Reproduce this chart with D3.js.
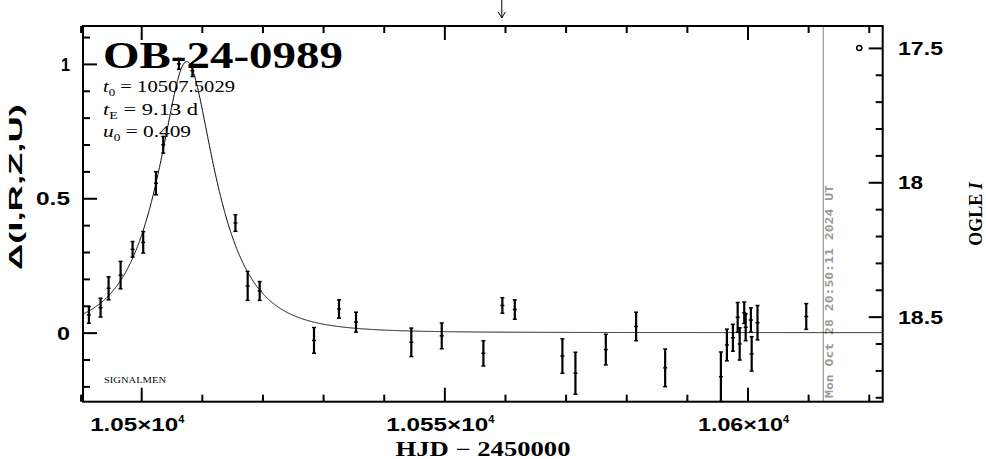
<!DOCTYPE html>
<html><head><meta charset="utf-8">
<script src="https://cdn.jsdelivr.net/npm/d3@7"></script>
<style>body{margin:0;background:#fff}svg{display:block}</style>
</head><body>
<script>
// ---- data ----
const eventName = "OB-24-0989";
const t0 = 10507.5029, tE = 9.13, u0 = 0.409, blendFs = 0.96;
const baseMag = 18.5595;           // OGLE I baseline (Δ = 0)
const hjd = [10491.37,10493.30,10494.62,10496.60,10498.58,10500.33,10502.43,10503.63,10506.22,10508.45,
  10515.54,10517.56,10519.54,10528.50,10532.62,10535.43,10544.55,10549.57,10556.44,10559.57,10561.62,
  10569.47,10571.62,10576.63,10581.63,10586.42,10595.61,10596.60,10597.59,10598.38,10598.71,10599.46,
  10599.70,10600.56,10600.69,10601.65,10609.69];
const dmag = [0.066,0.093,0.165,0.214,0.310,0.336,0.556,0.699,1.000,0.975,
  0.408,0.174,0.155,-0.029,0.088,0.039,-0.036,-0.012,-0.077,0.101,0.086,
  -0.087,-0.151,-0.063,0.023,-0.131,-0.164,-0.046,-0.019,0.057,-0.042,0.074,
  0.020,0.047,-0.079,0.037,0.060];
const dmagErr = [0.031,0.035,0.043,0.051,0.029,0.040,0.043,0.031,0.020,0.022,
  0.031,0.054,0.035,0.048,0.034,0.037,0.053,0.048,0.047,0.029,0.036,
  0.064,0.078,0.057,0.053,0.070,0.092,0.059,0.050,0.055,0.060,0.040,
  0.050,0.045,0.064,0.064,0.048];
const xMajor = [10500, 10550, 10600];
const xMajorLabels = ["1.05×10", "1.055×10", "1.06×10"];
const yMajor = [0, 0.5, 1];
const yMajorLabels = ["0", "0.5", "1"];
const magMajor = [17.5, 18, 18.5];
const magMajorLabels = ["17.5", "18", "18.5"];
const nowHJD = 10612.5;
const nowLabel = "Mon Oct 28 20:50:11 2024 UT";
const arrowHJD = 10559.47;
const baseMarkHJD = 10618.43, baseMarkMag = 17.5;

// ---- layout ----
const W = 986, H = 459;
const L = 83, R = 882.7, T = 26, B = 401.7;
const svg = d3.select("body").append("svg").attr("width", W).attr("height", H);

const x = d3.scaleLinear().domain([10490.4, 10622.3]).range([L, R]);
const y = d3.scaleLinear().domain([-0.257, 1.141]).range([B, T]);
const yMag = d3.scaleLinear().domain([baseMag + 0.257, baseMag - 1.141]).range([B, T]);

const xMinor = d3.range(10490, 10621, 10).filter(v => !xMajor.includes(v));
const yMinor = d3.range(-2, 12).map(v => v / 10).filter(v => !yMajor.includes(v));
const magMinor = d3.range(175, 189).map(v => v / 10).filter(v => !magMajor.some(m => Math.abs(m - v) < 1e-6));

function ax(gen, tx, ty, vals, size) {
  const g = svg.append("g").attr("transform", `translate(${tx},${ty})`)
    .call(gen.tickValues(vals).tickSize(size).tickSizeOuter(0).tickFormat(""));
  g.select(".domain").remove();
  g.selectAll(".tick line").attr("stroke", "#000").attr("stroke-width", 2);
}
ax(d3.axisTop(x), 0, B, xMinor, 7);
ax(d3.axisTop(x), 0, B, xMajor, 14);
ax(d3.axisBottom(x), 0, T, xMinor, 7);
ax(d3.axisBottom(x), 0, T, xMajor, 14);
ax(d3.axisRight(y), L, 0, yMinor, 7);
ax(d3.axisRight(y), L, 0, yMajor, 14);
ax(d3.axisLeft(yMag), R, 0, magMinor, 7);
ax(d3.axisLeft(yMag), R, 0, magMajor, 14);

// "now" line
svg.append("line").attr("x1", x(nowHJD)).attr("x2", x(nowHJD)).attr("y1", T).attr("y2", B)
  .attr("stroke", "#999").attr("stroke-width", 1.2);
svg.append("text").attr("transform", `translate(${x(nowHJD) + 10},398) rotate(-90)`)
  .attr("font-family", "DejaVu Sans Mono").attr("font-weight", "bold").attr("font-size", 11)
  .attr("fill", "#999").attr("textLength", 213).attr("lengthAdjust", "spacingAndGlyphs").text(nowLabel);

// model curve
function model(t) {
  const u = Math.sqrt(u0 * u0 + ((t - t0) / tE) ** 2);
  const A = (u * u + 2) / (u * Math.sqrt(u * u + 4));
  return 2.5 * Math.log10(blendFs * (A - 1) + 1);
}
const tGrid = d3.range(10490.4, 10622.3, 0.05);
svg.append("path").datum(tGrid)
  .attr("d", d3.line().x(t => x(t)).y(t => y(model(t))))
  .attr("fill", "none").attr("stroke", "#000").attr("stroke-width", 1);

// error bars
const pts = hjd.map((t, i) => ({ t, d: dmag[i], e: dmagErr[i] }));
const gp = svg.append("g").attr("stroke", "#000");
pts.forEach(p => {
  const cx = x(p.t);
  const y1 = Math.min(y(p.d - p.e), B), y2 = y(p.d + p.e);
  gp.append("line").attr("x1", cx).attr("x2", cx).attr("y1", y1).attr("y2", y2).attr("stroke-width", 2.2);
  gp.append("line").attr("x1", cx - 2).attr("x2", cx + 2).attr("y1", y1).attr("y2", y1).attr("stroke-width", 1.5);
  gp.append("line").attr("x1", cx - 2).attr("x2", cx + 2).attr("y1", y2).attr("y2", y2).attr("stroke-width", 1.5);
  gp.append("line").attr("x1", cx - 2).attr("x2", cx + 2).attr("y1", y(p.d)).attr("y2", y(p.d)).attr("stroke-width", 1.5);
});

// baseline marker circle
svg.append("circle").attr("cx", x(baseMarkHJD)).attr("cy", yMag(baseMarkMag)).attr("r", 2.5)
  .attr("fill", "none").attr("stroke", "#000").attr("stroke-width", 1.5);

// arrow
const axp = x(arrowHJD);
svg.append("line").attr("x1", axp).attr("x2", axp).attr("y1", 0).attr("y2", 18).attr("stroke", "#000").attr("stroke-width", 1);
svg.append("path").attr("d", `M${axp - 3.5},${12} L${axp},${18} L${axp + 3.5},${12}`)
  .attr("fill", "none").attr("stroke", "#000").attr("stroke-width", 1);

// frame
svg.append("rect").attr("x", L).attr("y", T).attr("width", R - L).attr("height", B - T)
  .attr("fill", "none").attr("stroke", "#000").attr("stroke-width", 2);

// tick labels
const tickFont = "Liberation Sans";
const xLabelLen = [88, 102, 85];
xMajor.forEach((v, i) => {
  const t = svg.append("text").attr("x", x(v) - 4).attr("y", 431).attr("text-anchor", "middle")
    .attr("font-family", tickFont).attr("font-weight", "bold").attr("font-size", 19);
  t.append("tspan").attr("textLength", xLabelLen[i]).attr("lengthAdjust", "spacingAndGlyphs").text(xMajorLabels[i]);
  t.append("tspan").attr("dy", -8).attr("font-size", 11).text("4");
});
const yLabelLen = [13, 34, 9];
yMajor.forEach((v, i) => {
  svg.append("text").attr("x", 70).attr("y", y(v) + 7).attr("text-anchor", "end")
    .attr("font-family", tickFont).attr("font-weight", "bold").attr("font-size", 19)
    .attr("textLength", yLabelLen[i]).attr("lengthAdjust", "spacingAndGlyphs").text(yMajorLabels[i]);
});
const magLabelLen = [45, 25, 45];
magMajor.forEach((v, i) => {
  svg.append("text").attr("x", 898).attr("y", yMag(v) + 7).attr("text-anchor", "start")
    .attr("font-family", tickFont).attr("font-weight", "bold").attr("font-size", 19)
    .attr("textLength", magLabelLen[i]).attr("lengthAdjust", "spacingAndGlyphs").text(magMajorLabels[i]);
});

// axis titles
svg.append("text").attr("x", 483).attr("y", 456).attr("text-anchor", "middle")
  .attr("font-family", "Liberation Serif").attr("font-weight", "bold").attr("font-size", 20)
  .attr("textLength", 175).attr("lengthAdjust", "spacingAndGlyphs").text("HJD − 2450000");
svg.append("text").attr("transform", "translate(22,187) rotate(-90)").attr("text-anchor", "middle")
  .attr("font-family", "Liberation Sans").attr("font-weight", "bold").attr("font-size", 19)
  .attr("textLength", 166).attr("lengthAdjust", "spacingAndGlyphs").text("Δ(I,R,Z,U)");
const og = svg.append("text").attr("transform", "translate(982,214) rotate(-90)").attr("text-anchor", "middle")
  .attr("font-family", "Liberation Serif").attr("font-weight", "bold").attr("font-size", 18);
og.append("tspan").text("OGLE ");
og.append("tspan").attr("font-style", "italic").text("I");

// title + params
svg.append("text").attr("x", 103).attr("y", 68).attr("font-family", "Liberation Serif").attr("font-weight", "bold")
  .attr("font-size", 38).attr("textLength", 240).attr("lengthAdjust", "spacingAndGlyphs").text(eventName);
const params = [["t", "0", " = " + t0.toFixed(4)], ["t", "E", " = " + tE.toFixed(2) + " d"], ["u", "0", " = " + u0.toFixed(3)]];
const paramLen = [132, 95, 88];
params.forEach((p, i) => {
  const t = svg.append("text").attr("x", 103).attr("y", 92 + i * 22.5)
    .attr("font-family", "Liberation Serif").attr("font-size", 16)
    .attr("textLength", paramLen[i]).attr("lengthAdjust", "spacingAndGlyphs");
  t.append("tspan").attr("font-style", "italic").text(p[0]);
  t.append("tspan").attr("dy", 4).attr("font-size", 10).text(p[1]);
  t.append("tspan").attr("dy", -4).text(p[2]);
});
svg.append("text").attr("x", 104).attr("y", 383).attr("font-family", "Liberation Serif").attr("font-size", 9)
  .attr("textLength", 62).attr("lengthAdjust", "spacingAndGlyphs").text("SIGNALMEN");
</script>
</body></html>
